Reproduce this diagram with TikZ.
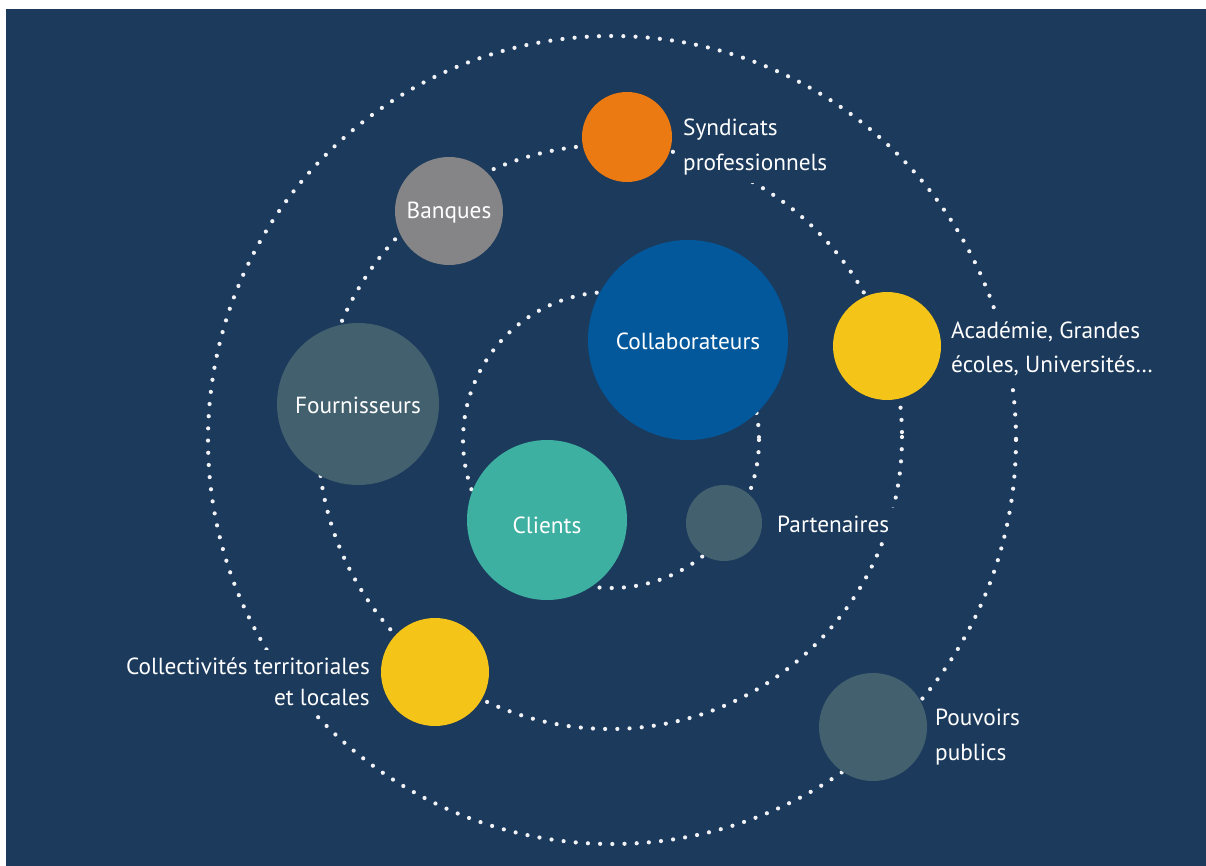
\documentclass[tikz,border=0pt]{standalone}
\usepackage{fontspec}
\setmainfont{PT Sans}
\definecolor{bg}{RGB}{28,58,92}
\definecolor{orng}{RGB}{236,122,18}
\definecolor{grey}{RGB}{133,133,135}
\definecolor{slate}{RGB}{67,96,110}
\definecolor{collab}{RGB}{2,88,155}
\definecolor{teal}{RGB}{62,176,162}
\definecolor{yell}{RGB}{244,197,24}
\definecolor{dotc}{RGB}{240,242,245}
\tikzset{
  ring/.style={draw=dotc, line width=4.2pt, line cap=round, dash pattern=on 0pt off 12.2pt},
  ball/.style={circle, inner sep=0pt, text=white, font=\fontsize{23.3}{28}\selectfont},
  lbl/.style={text=white, fill=bg, inner sep=8pt, font=\fontsize{23.3}{35}\selectfont},
  innertext/.style={text=white, inner sep=0pt, font=\fontsize{23.3}{28}\selectfont},
}
\begin{document}
\begin{tikzpicture}[x=1pt,y=-1pt]
\fill[white] (0,0) rectangle (1206,866);
\fill[bg] (6,9) rectangle (1206,866);
\useasboundingbox (0,0) rectangle (1206,866);
% rings
\draw[ring] (611,440) circle[radius=148];
\draw[ring] (610,437) circle[radius=292];
\draw[ring] (612,440) circle[radius=404];
% labels (mask the dots)
\node[lbl, anchor=west, align=left] (tsyn) at (675,147) {Syndicats\\professionnels};
\node[lbl, anchor=west, align=left, font=\fontsize{23.3}{34}\selectfont] (taca) at (943,349) {Académie, Grandes\\écoles, Universités…};
\node[lbl, anchor=west] (tpar) at (769,524) {Partenaires};
\node[lbl, anchor=east, align=right, font=\fontsize{23.3}{31}\selectfont] (tcol) at (378,682) {Collectivités territoriales\\et locales};
\node[lbl, anchor=west, align=left] (tpou) at (927,737) {Pouvoirs\\publics};
% circles
\node[ball, fill=orng, minimum size=90pt] (syn) at (627,137) {};
\node[ball, fill=grey, minimum size=108pt] (ban) at (449,211) {};
\node[ball, fill=collab, minimum size=200pt] (cola) at (688,340) {};
\node[ball, fill=yell, minimum size=108pt] (aca) at (887,346) {};
\node[ball, fill=slate, minimum size=162pt] (fou) at (358,404) {};
\node[ball, fill=teal, minimum size=160pt] (cli) at (547,520) {};
\node[ball, fill=slate, minimum size=76pt] (par) at (724,523) {};
\node[ball, fill=yell, minimum size=108pt] (col) at (435,672) {};
\node[ball, fill=slate, minimum size=108pt] (pou) at (873,727) {};
% captions inside circles
\node[innertext] (tban) at ([yshift=-2pt]ban.center) {Banques};
\node[innertext] (tcola) at ([yshift=-1pt]cola.center) {Collaborateurs};
\node[innertext] (tfou) at ([yshift=-1pt]fou.center) {Fournisseurs};
\node[innertext] (tcli) at ([yshift=-5pt]cli.center) {Clients};
\end{tikzpicture}
\end{document}
